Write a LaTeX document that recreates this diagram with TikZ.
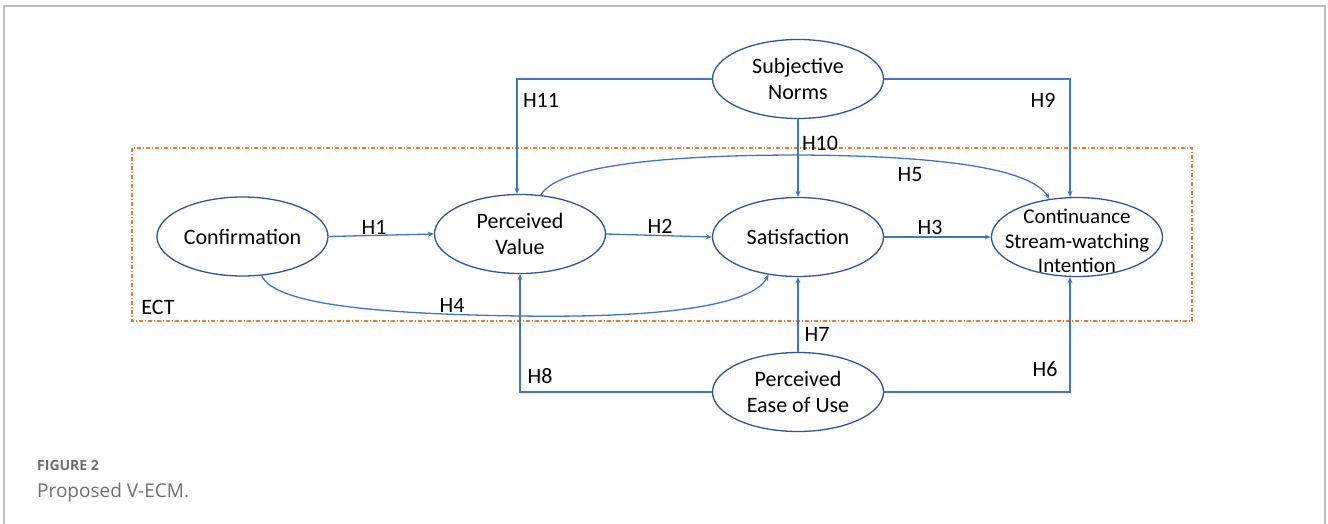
\documentclass[tikz,border=0pt]{standalone}
\usepackage{fontspec}
\setmainfont{Carlito}
\newfontfamily\capfont{Open Sans}
\usetikzlibrary{arrows.meta,shapes.geometric}
\definecolor{ellc}{RGB}{47,85,151}
\definecolor{arrc}{RGB}{68,114,196}
\definecolor{ectc}{RGB}{237,125,49}
\definecolor{framec}{RGB}{190,190,190}
\definecolor{capc}{RGB}{110,110,110}
\begin{document}
\begin{tikzpicture}[x=1pt,y=-1pt,
  ell/.style={ellipse, draw=ellc, line width=1.3pt, minimum width=171pt, minimum height=79pt, inner sep=0pt, align=center, font=\fontsize{22}{26}\selectfont},
  conn/.style={draw=arrc, line width=1.3pt, -{Stealth[length=6pt,width=5pt]}},
  hlab/.style={font=\fontsize{22}{26}\selectfont, inner sep=0pt},
  ectbox/.style={draw=ectc, line width=1.2pt, dash pattern=on 4pt off 2pt on 1pt off 2pt},
]
\useasboundingbox (0,0) rectangle (1328,524);
\draw[framec, line width=1.2pt] (4,524) -- (4,6) -- (1325,6) -- (1325,524);
\draw[ectbox] (132,148) rectangle (1192,321);

\node[ell] (conf) at (242.5,236.5) {Confirmation};
\node[ell] (pv) at (520,234) {Perceived\\Value};
\node[ell] (sn) at (798,79) {Subjective\\Norms};
\node[ell] (sat) at (798,237) {Satisfaction};
\node[ell] (cont) at (1077,237) {};
\node[font=\fontsize{21}{24.5}\selectfont, align=center, inner sep=0pt] (contt) at (1077,241) {Continuance\\Stream-watching\\Intention};
\node[ell] (peou) at (798,392) {Perceived\\Ease of Use};

\draw[conn] (conf.east) -- (pv.west);
\draw[conn] (pv.east) -- (sat.west);
\draw[conn] (sat.east) -- (cont.west);
\draw[conn] (sn.south) -- (sat.north);
\draw[conn] (sn.west) -| ([xshift=-3pt]pv.north);
\draw[conn] (sn.east) -| ([xshift=-7pt]cont.north);
\draw[conn] (peou.north) -- (sat.south);
\draw[conn] (peou.west) -| (pv.south);
\draw[conn] (peou.east) -| ([xshift=-7pt]cont.south);
\draw[conn] (conf.-64) .. controls (275,305) and (380,314) .. (520,316) .. controls (660,318) and (752,306) .. (sat.232);
\draw[conn] (pv.62) .. controls (560,162) and (690,155) .. (800,155) .. controls (940,156) and (1030,168) .. (cont.126);

\node[hlab] (h1) at (374,227) {H1};
\node[hlab] (h2) at (660,226) {H2};
\node[hlab] (h3) at (930,227) {H3};
\node[hlab] (h4) at (452,305) {H4};
\node[hlab] (h5) at (910,175) {H5};
\node[hlab] (h6) at (1045,369) {H6};
\node[hlab] (h7) at (817,334) {H7};
\node[hlab] (h8) at (540,376) {H8};
\node[hlab] (h9) at (1043,100) {H9};
\node[hlab] (h10) at (820,143) {H10};
\node[hlab] (h11) at (541,100) {H11};
\node[hlab] (ect) at (158,307) {ECT};

\node[anchor=base west, font=\capfont\bfseries\fontsize{14}{16}\selectfont, text=capc, inner sep=0pt] (figlab) at (37,470) {FIGURE 2};
\node[anchor=base west, font=\capfont\fontsize{19}{22}\selectfont, text=capc, inner sep=0pt] (figcap) at (37,497) {Proposed V-ECM.};
\end{tikzpicture}
\end{document}
